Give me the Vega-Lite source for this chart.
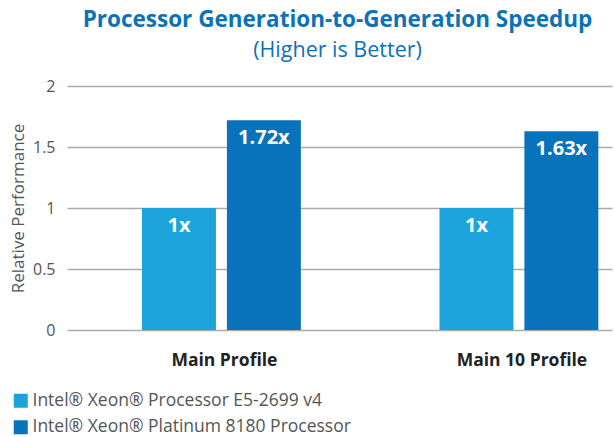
{
  "$schema": "https://vega.github.io/schema/vega-lite/v6.json",
  "width": 545,
  "height": 244,
  "autosize": {"type": "none"},
  "padding": {"left": 67, "top": 86, "right": 2, "bottom": 107},
  "title": {
    "text": "Processor Generation-to-Generation Speedup",
    "subtitle": "(Higher is Better)",
    "anchor": "middle",
    "dx": -2,
    "offset": 17,
    "font": "Open Sans",
    "fontSize": 22.5,
    "fontWeight": "bold",
    "color": "#0b72b8",
    "subtitleFont": "Open Sans",
    "subtitleFontSize": 21.5,
    "subtitleColor": "#0b72b8",
    "subtitlePadding": 8
  },
  "config": {"view": {"stroke": null}},
  "data": {
    "values": [
      {"profile": "Main Profile", "processor": "Intel® Xeon® Processor E5-2699 v4", "value": 1, "label": "1x"},
      {"profile": "Main Profile", "processor": "Intel® Xeon® Platinum 8180 Processor", "value": 1.72, "label": "1.72x"},
      {"profile": "Main 10 Profile", "processor": "Intel® Xeon® Processor E5-2699 v4", "value": 1, "label": "1x"},
      {"profile": "Main 10 Profile", "processor": "Intel® Xeon® Platinum 8180 Processor", "value": 1.63, "label": "1.63x"}
    ]
  },
  "encoding": {
    "x": {
      "field": "profile",
      "type": "nominal",
      "sort": ["Main Profile", "Main 10 Profile"],
      "scale": {"paddingInner": 0.466, "paddingOuter": 0.149, "align": 0.846},
      "axis": {
        "title": null,
        "labelAngle": 0,
        "domain": false,
        "ticks": false,
        "labelFont": "Open Sans",
        "labelFontWeight": "bold",
        "labelFontSize": 17.5,
        "labelColor": "#222222",
        "labelPadding": 21,
        "labelOffset": 3
      }
    },
    "xOffset": {
      "field": "processor",
      "type": "nominal",
      "sort": ["Intel® Xeon® Processor E5-2699 v4", "Intel® Xeon® Platinum 8180 Processor"],
      "scale": {"paddingInner": 0.129, "paddingOuter": 0}
    }
  },
  "layer": [
    {
      "mark": {"type": "bar"},
      "encoding": {
        "y": {
          "field": "value",
          "type": "quantitative",
          "scale": {"domain": [0, 2]},
          "axis": {
            "values": [0, 0.5, 1, 1.5, 2],
            "format": "~g",
            "domain": false,
            "ticks": false,
            "grid": true,
            "gridColor": "#aaaaaa",
            "gridWidth": 1.5,
            "labelPadding": 12,
            "labelFont": "Open Sans",
            "labelFontSize": 16,
            "labelColor": "#555555",
            "title": "Relative Performance",
            "titleFont": "Open Sans",
            "titleFontSize": 17,
            "titleFontWeight": "normal",
            "titleColor": "#555555",
            "titlePadding": 5
          }
        },
        "color": {
          "field": "processor",
          "type": "nominal",
          "sort": ["Intel® Xeon® Processor E5-2699 v4", "Intel® Xeon® Platinum 8180 Processor"],
          "scale": {"range": ["#1ca3dc", "#0872ba"]},
          "legend": {
            "orient": "none",
            "legendX": -55,
            "legendY": 306,
            "direction": "vertical",
            "title": null,
            "symbolType": "square",
            "symbolSize": 196,
            "symbolStrokeWidth": 0,
            "symbolOpacity": 1,
            "labelFont": "Open Sans",
            "labelFontSize": 17.5,
            "labelColor": "#555555",
            "labelLimit": 0,
            "labelOffset": 3,
            "rowPadding": 7.5,
            "padding": 0
          }
        }
      }
    },
    {
      "mark": {"type": "text", "baseline": "top", "dy": 8, "color": "white", "font": "Open Sans", "fontWeight": "bold", "fontSize": 20},
      "encoding": {
        "y": {"field": "value", "type": "quantitative"},
        "text": {"field": "label"}
      }
    }
  ]
}
